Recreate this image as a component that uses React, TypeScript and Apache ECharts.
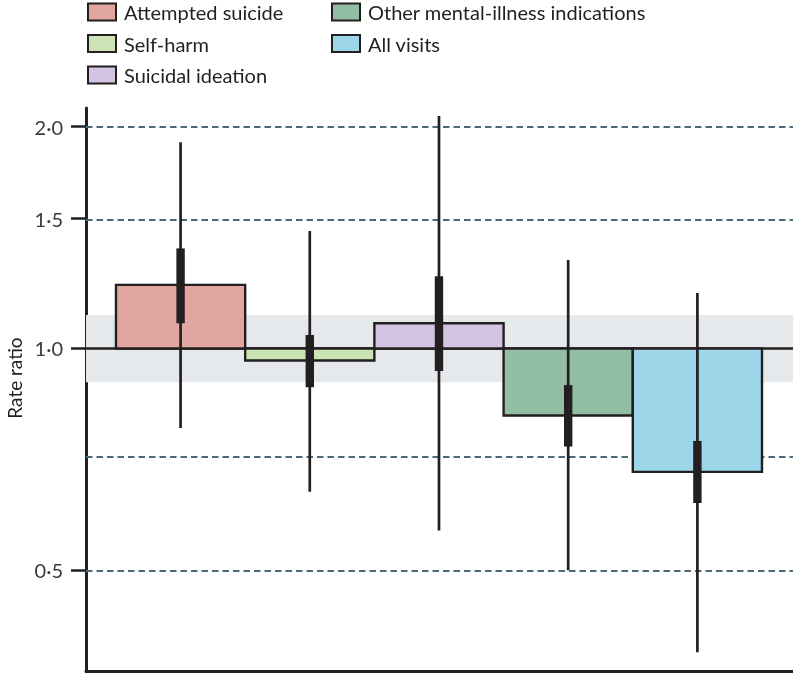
import React, { useEffect, useRef } from "react";
import * as echarts from "echarts";

const categories = [
  "Attempted suicide",
  "Self-harm",
  "Suicidal ideation",
  "Other mental-illness indications",
  "All visits",
];
const rateRatio = [1.22, 0.963, 1.082, 0.811, 0.68];
const ciLow = [0.78, 0.639, 0.566, 0.5, 0.387];
const ciHigh = [1.905, 1.443, 2.067, 1.318, 1.189];
const innerLow = [1.082, 0.886, 0.932, 0.736, 0.617];
const innerHigh = [1.367, 1.043, 1.253, 0.892, 0.749];
const colors = ["#e2a6a0", "#cce3b6", "#d4c4e1", "#92bfa4", "#9dd6e8"];
const tickValues = [0.5, 1.0, 1.5, 2.0];
const refLines = [0.5, 0.71, 1.5, 2.0];
const bandRange = [0.9, 1.11];
const yRange = [0.365, 2.12];
const yTitle = "Rate ratio";

const FONT = "Lato";
const INK = "#231f20";
const lg = (v: number) => Math.log2(v);

export default function App() {
  const ref = useRef<HTMLDivElement>(null);
  useEffect(() => {
    if (!ref.current) return;
    const chart = echarts.init(ref.current, null, { renderer: "svg" });

    const barSeries = categories.map((name, i) => ({
      name,
      type: "custom",
      z: 5,
      itemStyle: { color: colors[i], borderColor: INK, borderWidth: 2 },
      encode: { x: 0, y: [1, 2, 3, 4, 5] },
      data: [[i + 1, lg(rateRatio[i]), lg(ciLow[i]), lg(ciHigh[i]), lg(innerLow[i]), lg(innerHigh[i])]],
      renderItem: (params: any, api: any) => {
        const x = api.value(0);
        const p0 = api.coord([x - 0.5, 0]);
        const p1 = api.coord([x + 0.5, api.value(1)]);
        const lo = api.coord([x, api.value(2)]);
        const hi = api.coord([x, api.value(3)]);
        const q1 = api.coord([x, api.value(4)]);
        const q3 = api.coord([x, api.value(5)]);
        return {
          type: "group",
          children: [
            {
              type: "rect",
              shape: {
                x: p0[0],
                y: Math.min(p0[1], p1[1]),
                width: p1[0] - p0[0],
                height: Math.abs(p1[1] - p0[1]),
              },
              style: { fill: colors[i], stroke: INK, lineWidth: 2.4 },
            },
            {
              type: "line",
              shape: { x1: lo[0], y1: lo[1], x2: hi[0], y2: hi[1] },
              style: { stroke: INK, lineWidth: 2.7 },
            },
            {
              type: "rect",
              shape: {
                x: q1[0] - 4.2,
                y: Math.min(q1[1], q3[1]),
                width: 8.4,
                height: Math.abs(q1[1] - q3[1]),
              },
              style: { fill: INK },
            },
          ],
        };
      },
    }));

    const legendCommon = {
      orient: "vertical",
      top: 2,
      padding: 0,
      itemWidth: 28,
      itemHeight: 17,
      itemGap: 11.5,
      icon: "rect",
      selectedMode: false,
      itemStyle: { borderColor: INK, borderWidth: 2 },
      textStyle: { fontFamily: FONT, fontSize: 20, color: INK, lineHeight: 19, padding: [0, 0, 0, 3] },
    };

    chart.setOption({
      animation: false,
      grid: { left: 86, right: 0, top: 108, bottom: 4 },
      legend: [
        { ...legendCommon, left: 87, data: categories.slice(0, 3) },
        { ...legendCommon, left: 331, data: categories.slice(3) },
      ],
      graphic: [
        {
          type: "text",
          x: 14,
          y: 378,
          rotation: Math.PI / 2,
          style: {
            text: yTitle,
            fontFamily: FONT,
            fontSize: 19,
            fill: INK,
            align: "center",
            verticalAlign: "middle",
          },
        },
      ],
      xAxis: {
        type: "value",
        min: 0.268,
        max: 5.74,
        axisLine: { show: true, onZero: false, lineStyle: { color: INK, width: 3 } },
        axisTick: { show: false },
        axisLabel: { show: false },
        splitLine: { show: false },
      },
      yAxis: {
        type: "value",
        min: lg(yRange[0]),
        max: lg(yRange[1]),
        axisLine: { show: true, onZero: false, lineStyle: { color: INK, width: 3 } },
        axisTick: {
          show: true,
          length: 15,
          customValues: tickValues.map(lg),
          lineStyle: { color: INK, width: 2.5 },
        },
        axisLabel: {
          margin: 23,
          customValues: tickValues.map(lg),
          fontFamily: FONT,
          fontSize: 20,
          color: "#3a3a3a",
          formatter: (v: number) => Math.pow(2, v).toFixed(1).replace(".", "\u00b7"),
        },
        splitLine: { show: false },
      },
      series: [
        {
          type: "line",
          data: [],
          z: 1,
          silent: true,
          markArea: {
            silent: true,
            itemStyle: { color: "#e6e9ec" },
            data: [[{ yAxis: lg(bandRange[0]) }, { yAxis: lg(bandRange[1]) }]],
          },
          markLine: {
            silent: true,
            symbol: ["none", "none"],
            label: { show: false },
            lineStyle: { color: "#4d6a78", width: 2.2, type: [6.5, 4] },
            data: refLines.map((v) => ({ yAxis: lg(v) })),
          },
        },
        {
          type: "line",
          data: [],
          z: 2,
          silent: true,
          markLine: {
            silent: true,
            symbol: ["none", "none"],
            label: { show: false },
            lineStyle: { color: INK, width: 2.5, type: "solid" },
            data: [{ yAxis: 0 }],
          },
        },
        ...barSeries,
      ],
    });
    return () => chart.dispose();
  }, []);
  return <div ref={ref} style={{ position: "fixed", left: 0, top: 0, width: 793, height: 675 }} />;
}
